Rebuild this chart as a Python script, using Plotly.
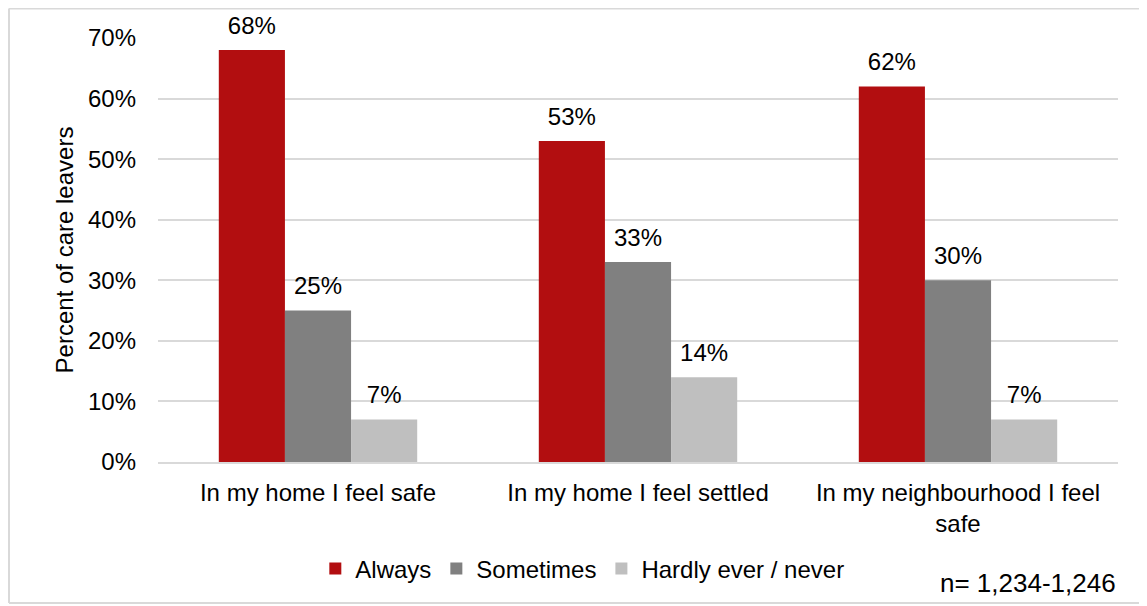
import plotly.graph_objects as go

categories = ["In my home I feel safe", "In my home I feel settled", "In my neighbourhood I feel<br>safe"]
series_names = ["Always", "Sometimes", "Hardly ever / never"]
always = [68, 53, 62]
sometimes = [25, 33, 30]
hardly = [7, 14, 7]
y_ticks = [0, 10, 20, 30, 40, 50, 60, 70]
y_tick_labels = [f"{t}%" for t in y_ticks]
note_text = "n= 1,234-1,246"

colors = ["#B20E10", "#808080", "#BFBFBF"]
FONT = "Liberation Sans, Arial, sans-serif"
FS = 24

fig = go.Figure()
for name, vals, col in zip(series_names, [always, sometimes, hardly], colors):
    fig.add_trace(go.Bar(
        x=categories, y=vals, name=name,
        marker=dict(color=col, line=dict(width=0)),
        hoverinfo="x+y+name",
    ))
# data labels, grouped like the bars
for name, vals in zip(series_names, [always, sometimes, hardly]):
    fig.add_trace(go.Scatter(
        x=categories, y=vals, name=name + " labels", mode="markers+text",
        marker=dict(size=15, opacity=0),
        text=[f"{v}%" for v in vals], textposition="top center",
        textfont=dict(family=FONT, size=FS, color="#000000"),
        showlegend=False, hoverinfo="skip", cliponaxis=False,
    ))

fig.update_layout(
    width=1139, height=598,
    margin=dict(l=150, r=29, t=30, b=144, autoexpand=False),
    paper_bgcolor="white", plot_bgcolor="white",
    barmode="group", bargap=0.38, bargroupgap=0,
    scattermode="group", scattergap=0.38,
    font=dict(family=FONT, size=FS, color="#000000"),
    showlegend=True,
    legend=dict(orientation="h", x=0.442, xanchor="center", y=-0.252, yanchor="middle",
                font=dict(family=FONT, size=FS, color="#000000"),
                itemwidth=30, traceorder="normal", tracegroupgap=0),
    xaxis=dict(showgrid=False, showline=True, linecolor="#D9D9D9", linewidth=2,
               ticks="", ticklabelstandoff=8, tickfont=dict(size=FS), automargin=False),
    yaxis=dict(range=[0, 70], tickvals=y_ticks, ticktext=y_tick_labels,
               showgrid=True, gridcolor="#D9D9D9", gridwidth=2, zeroline=False,
               showline=False, ticks="", ticklabelstandoff=21, automargin=False,
               tickfont=dict(size=FS),
               title=dict(text="Percent of care leavers", font=dict(size=FS), standoff=7)),
    annotations=[dict(text=note_text, xref="paper", yref="paper", x=1.0, y=-0.285,
                      xanchor="right", yanchor="middle", showarrow=False,
                      font=dict(family=FONT, size=26, color="#000000"))],
    shapes=[
        dict(type="line", xref="paper", yref="paper", x0=-0.1552, x1=1.05, y0=1.0696, y1=1.0696,
             line=dict(color="#D9D9D9", width=2)),
        dict(type="line", xref="paper", yref="paper", x0=-0.1552, x1=-0.1552, y0=1.0696, y1=-0.3325,
             line=dict(color="#D9D9D9", width=2)),
        dict(type="line", xref="paper", yref="paper", x0=-0.1552, x1=1.05, y0=-0.3325, y1=-0.3325,
             line=dict(color="#D9D9D9", width=2)),
    ],
)

fig.write_html("out.html")
